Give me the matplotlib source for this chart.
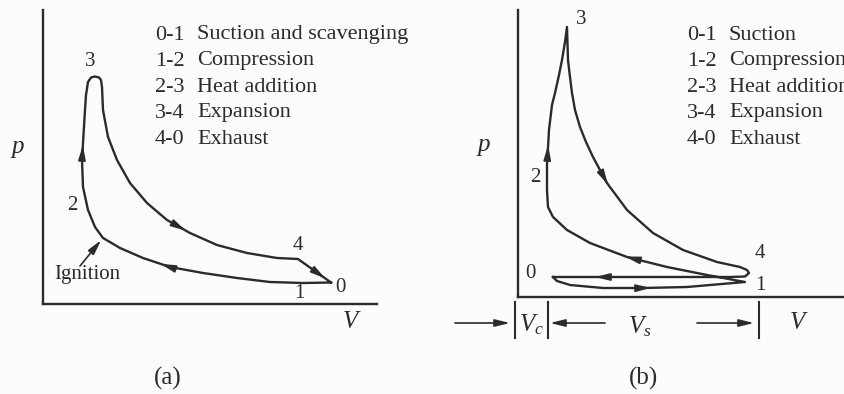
import numpy as np
import matplotlib
matplotlib.use("Agg")
import matplotlib.pyplot as plt

plt.rcParams['font.family'] = ['Liberation Serif', 'DejaVu Serif']
plt.rcParams['mathtext.fontset'] = 'custom'
plt.rcParams['mathtext.rm'] = 'Liberation Serif'
plt.rcParams['mathtext.it'] = 'Liberation Serif:italic'

INK = '#2b2b2b'

# ---- (a) two-stroke cycle (arbitrary V, p units)
# order: 0 -> 1 -> ignition -> 2 -> 3 -> 4 -> 0
va = [288, 260, 227, 194, 160, 127, 100, 77, 60,
      52, 45, 40, 39, 40, 42, 43, 45, 48, 52, 56, 58, 59,
      60, 65, 74, 87, 104, 124, 147, 174, 204, 234, 255, 288]
pa = [21.5, 21, 22, 26, 31, 37, 46, 56, 66,
      77, 94, 117, 144, 161, 194, 209, 222, 226.5, 227.5, 226.5, 224, 217,
      194, 167, 144, 121, 101, 84, 71, 59, 51, 46, 45, 21.5]
arrows_a = [(40, 157), (142, 76), (120, 41), (281, 27)]
pts_a = {'3': (47, 242), '2': (29, 99), '4': (255, 59), '1': (256, 11), '0': (297, 16)}
ignition_a = (59, 65)
steps_a = ['0-1', '1-2', '2-3', '3-4', '4-0']
names_a = ['Suction and scavenging', 'Compression', 'Heat addition',
           'Expansion', 'Exhaust']

# ---- (b) four-stroke cycle
# order: 0 -> 1 (suction) -> 2 -> 3 -> 4 -> loop -> 0 (exhaust)
vb = [35, 39, 52, 85, 125, 169, 227,
      189, 149, 109, 72, 49, 35, 30, 29, 29, 31, 34, 37, 41, 44, 47, 49,
      50, 52, 54, 57, 62, 68, 75, 89, 109, 135, 165, 199, 222, 229, 231, 227, 212, 35]
pb = [20, 16, 12, 9, 9, 10, 15,
      22, 30, 40, 54, 67, 80, 90, 107, 132, 167, 192, 204, 222, 237, 255, 270,
      237, 220, 204, 187, 170, 155, 140, 114, 87, 64, 47, 35, 30, 27, 24, 20.5, 20, 20]
arrows_b = [(29, 150), (89, 114), (109, 40), (79, 20), (131, 9)]
pts_b = {'3': (63, 277), '2': (17, 120), '4': (242, 44), '1': (242, 12), '0': (12, 24)}
steps_b = ['0-1', '1-2', '2-3', '3-4', '4-0']
names_b = ['Suction', 'Compression', 'Heat addition', 'Expansion', 'Exhaust']
vc_marks = [-3, 30, 241]


def arrow_on(ax, V, P, target):
    V = np.asarray(V, float)
    P = np.asarray(P, float)
    tgt = np.asarray(target, float)
    best = None
    for i in range(len(V) - 1):
        a = np.array([V[i], P[i]])
        b = np.array([V[i + 1], P[i + 1]])
        d = b - a
        L = np.hypot(*d)
        if L == 0:
            continue
        t = np.clip(np.dot(tgt - a, d) / L**2, 0, 1)
        q = a + t * d
        dist = np.hypot(*(q - tgt))
        if best is None or dist < best[0]:
            best = (dist, q, d / L)
    _, q, u = best
    ax.annotate('', xy=q + u * 2, xytext=q - u * 6,
                arrowprops=dict(arrowstyle='-|>,head_length=0.9,head_width=0.22',
                                color=INK, lw=1.2, shrinkA=0, shrinkB=0))


def frame(ax, w, h):
    ax.set_xlim(0, w)
    ax.set_ylim(0, h)
    for s in ['top', 'right']:
        ax.spines[s].set_visible(False)
    for s in ['left', 'bottom']:
        ax.spines[s].set_linewidth(1.7)
        ax.spines[s].set_color(INK)
    ax.set_xticks([])
    ax.set_yticks([])
    ax.patch.set_alpha(0)


fig = plt.figure(figsize=(8.44, 3.94), dpi=100)
fig.patch.set_facecolor('#fcfcfb')
W, H = 844, 394
LEG = 16
NUM = 15
aprops = dict(arrowstyle='-|>,head_length=0.9,head_width=0.22', color=INK, lw=1.2,
              shrinkA=0, shrinkB=0)

# panel (a)
axa = fig.add_axes([43 / W, (H - 304) / H, 334 / W, 294 / H])
frame(axa, 334, 294)
axa.plot(va, pa, color=INK, lw=1.7, solid_joinstyle='round')
for a in arrows_a:
    arrow_on(axa, va, pa, a)
for k, (x, y) in pts_a.items():
    axa.text(x, y, k, fontsize=NUM, ha='center', va='center', color=INK, clip_on=False)
axa.text(44, 29, 'Ignition', fontsize=NUM, ha='center', va='center', color=INK)
axa.annotate('', xy=ignition_a, xytext=(37, 38), arrowprops=dict(aprops, shrinkB=1))
for i, (s, n) in enumerate(zip(steps_a, names_a)):
    axa.text(112, 269 - 26 * i, s, fontsize=LEG, va='center', color=INK)
    axa.text(154, 269 - 26 * i, n, fontsize=LEG, va='center', color=INK)
axa.text(-25, 157, 'p', fontsize=18, style='italic', ha='center', va='center', color=INK)
axa.text(307, -18, 'V', fontsize=18, style='italic', ha='center', va='center', color=INK)
axa.text(125, -74, '(a)', fontsize=18, ha='center', va='center', color=INK)

# panel (b), legend runs past the right edge as in the scan
axb = fig.add_axes([518 / W, (H - 297) / H, 340 / W, 287 / H])
frame(axb, 340, 287)
axb.plot(vb, pb, color=INK, lw=1.7, solid_joinstyle='round')
for a in arrows_b:
    arrow_on(axb, vb, pb, a)
for k, (x, y) in pts_b.items():
    axb.text(x, y, k, fontsize=NUM, ha='center', va='center', color=INK, clip_on=False)
for i, (s, n) in enumerate(zip(steps_b, names_b)):
    axb.text(169, 262 - 26 * i, s, fontsize=LEG, va='center', color=INK)
    axb.text(211, 262 - 26 * i, n, fontsize=LEG, va='center', color=INK)
axb.text(-34, 152, 'p', fontsize=18, style='italic', ha='center', va='center', color=INK)
axb.text(279, -26, 'V', fontsize=18, style='italic', ha='center', va='center', color=INK)
axb.text(126, -81, '(b)', fontsize=18, ha='center', va='center', color=INK)

for m in vc_marks:
    axb.plot([m, m], [-5, -41], color=INK, lw=1.5, clip_on=False)
axb.annotate('', xy=(vc_marks[0] - 5, -26), xytext=(-63, -26), arrowprops=aprops,
             annotation_clip=False)
axb.annotate('', xy=(vc_marks[1] + 2, -26), xytext=(87, -26), arrowprops=aprops,
             annotation_clip=False)
axb.annotate('', xy=(vc_marks[2] - 5, -26), xytext=(179, -26), arrowprops=aprops,
             annotation_clip=False)
axb.text(13, -28, '$V_c$', fontsize=18, ha='center', va='center', color=INK)
axb.text(122, -30, '$V_s$', fontsize=18, ha='center', va='center', color=INK)

fig.savefig('out.png', dpi=100, facecolor=fig.get_facecolor())
